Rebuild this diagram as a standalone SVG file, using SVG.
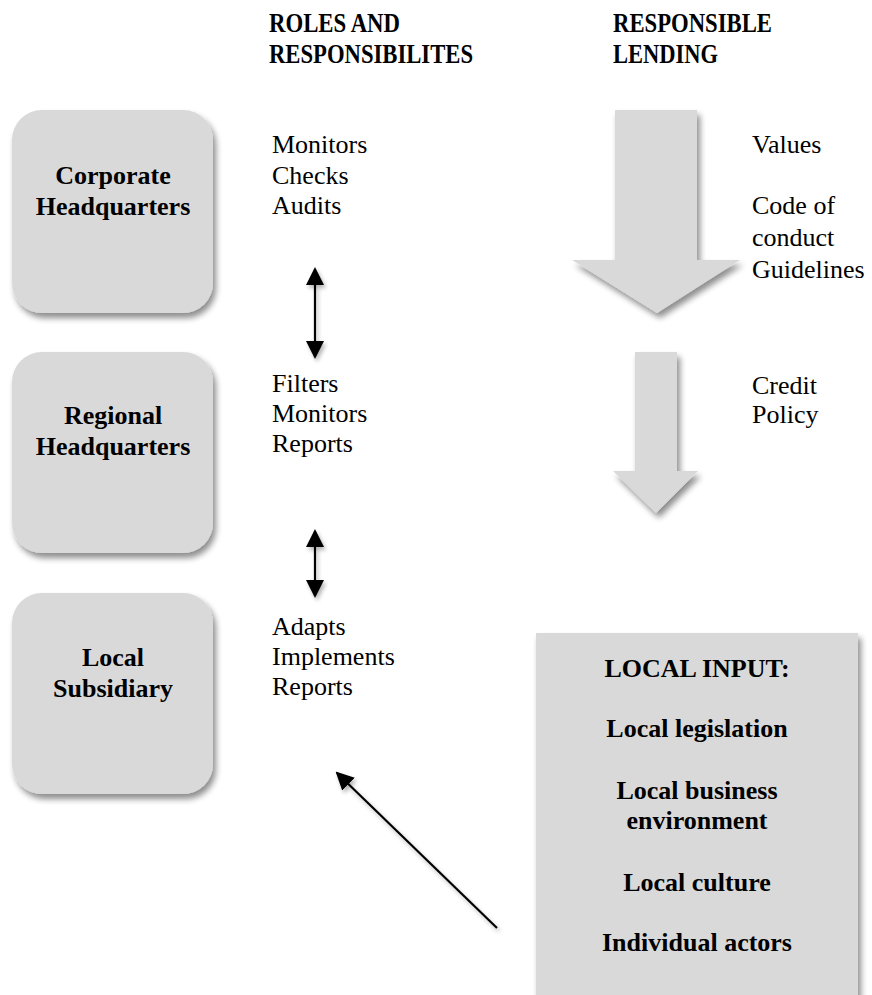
<svg xmlns="http://www.w3.org/2000/svg" width="872" height="995" viewBox="0 0 872 995">
<defs>
<style>
.box{fill:#d9d9d9;}
.t{font-family:"Liberation Serif","Times New Roman",serif;font-size:26px;fill:#000;}
.b{font-family:"Liberation Serif","Times New Roman",serif;font-size:26px;font-weight:bold;fill:#000;}
.h{font-family:"Liberation Serif","Times New Roman",serif;font-size:28px;font-weight:bold;fill:#000;}
.c{text-anchor:middle;}
.ln{stroke:#000;stroke-width:2.2;fill:none;}
</style>
<filter id="sh" x="-20%" y="-20%" width="150%" height="150%">
<feGaussianBlur in="SourceAlpha" stdDeviation="3"/>
<feOffset dx="3" dy="5" result="o"/>
<feComponentTransfer><feFuncA type="linear" slope="0.45"/></feComponentTransfer>
<feMerge><feMergeNode/><feMergeNode in="SourceGraphic"/></feMerge>
</filter>
<filter id="shs" x="-50%" y="-20%" width="200%" height="150%">
<feGaussianBlur in="SourceAlpha" stdDeviation="2"/>
<feOffset dx="2" dy="3"/>
<feComponentTransfer><feFuncA type="linear" slope="0.3"/></feComponentTransfer>
<feMerge><feMergeNode/><feMergeNode in="SourceGraphic"/></feMerge>
</filter>
<marker id="ah" viewBox="0 0 18 18" refX="16" refY="9" markerWidth="18" markerHeight="18" markerUnits="userSpaceOnUse" orient="auto-start-reverse">
<path d="M0,0 L18,9 L0,18 Z" fill="#000"/>
</marker>
</defs>

<g id="headers">
<text class="h" x="269" y="32" textLength="131" lengthAdjust="spacingAndGlyphs">ROLES AND</text>
<text class="h" x="269" y="63" textLength="204" lengthAdjust="spacingAndGlyphs">RESPONSIBILITES</text>
<text class="h" x="613" y="32" textLength="159" lengthAdjust="spacingAndGlyphs">RESPONSIBLE</text>
<text class="h" x="613" y="63" textLength="105" lengthAdjust="spacingAndGlyphs">LENDING</text>
</g>

<g id="corporate">
<rect class="box" x="12" y="110" width="201" height="203" rx="30" filter="url(#sh)"/>
<text class="b c" x="113" y="184">Corporate</text>
<text class="b c" x="113" y="215">Headquarters</text>
</g>
<g id="regional">
<rect class="box" x="12" y="352" width="201" height="201" rx="30" filter="url(#sh)"/>
<text class="b c" x="113" y="424">Regional</text>
<text class="b c" x="113" y="455">Headquarters</text>
</g>
<g id="local">
<rect class="box" x="12" y="593" width="201" height="201" rx="30" filter="url(#sh)"/>
<text class="b c" x="113" y="666">Local</text>
<text class="b c" x="113" y="697">Subsidiary</text>
</g>

<g id="roles-corporate">
<text class="t" x="272" y="153">Monitors</text>
<text class="t" x="272" y="184">Checks</text>
<text class="t" x="272" y="214">Audits</text>
</g>
<g id="roles-regional">
<text class="t" x="272" y="392">Filters</text>
<text class="t" x="272" y="422">Monitors</text>
<text class="t" x="272" y="452">Reports</text>
</g>
<g id="roles-local">
<text class="t" x="272" y="635">Adapts</text>
<text class="t" x="272" y="665">Implements</text>
<text class="t" x="272" y="695">Reports</text>
</g>

<g id="arrow-values">
<polygon class="box" points="615,110 697,110 697,260 740,260 657,313 572,260 615,260" filter="url(#sh)"/>
</g>
<g id="values-text">
<text class="t" x="752" y="153">Values</text>
<text class="t" x="752" y="214">Code of</text>
<text class="t" x="752" y="246">conduct</text>
<text class="t" x="752" y="278">Guidelines</text>
</g>
<g id="arrow-credit">
<polygon class="box" points="635,352 677,352 677,471 698,471 656,513 613,471 635,471" filter="url(#sh)"/>
</g>
<g id="credit-text">
<text class="t" x="752" y="394">Credit</text>
<text class="t" x="752" y="423">Policy</text>
</g>

<g id="local-input">
<rect class="box" x="536" y="633" width="322" height="380" filter="url(#sh)"/>
<text class="b c" x="697" y="677">LOCAL INPUT:</text>
<text class="b c" x="697" y="737">Local legislation</text>
<text class="b c" x="697" y="799">Local business</text>
<text class="b c" x="697" y="829">environment</text>
<text class="b c" x="697" y="891">Local culture</text>
<text class="b c" x="697" y="951">Individual actors</text>
</g>

<g id="connectors" filter="url(#shs)">
<line class="ln" x1="315" y1="269" x2="315" y2="357" marker-start="url(#ah)" marker-end="url(#ah)"/>
<line class="ln" x1="315" y1="531" x2="315" y2="596" marker-start="url(#ah)" marker-end="url(#ah)"/>
<line class="ln" x1="497" y1="928" x2="337" y2="773" marker-end="url(#ah)"/>
</g>
</svg>
